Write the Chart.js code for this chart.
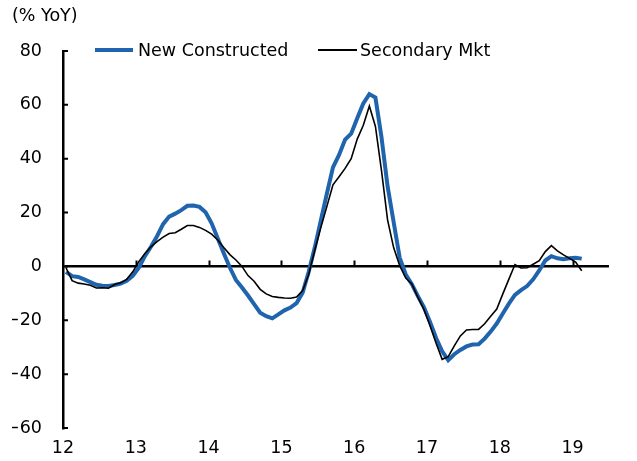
<!DOCTYPE html>
<html>
<head>
<meta charset="utf-8">
<script src="https://cdn.jsdelivr.net/npm/chart.js@4"></script>
<style>
  body { margin: 0; background: #fff; }
  #wrap { position: relative; width: 637px; height: 461px; }
  .key { position: absolute; top: 40px; display: flex; align-items: center;
         font: 17.5px "DejaVu Sans", sans-serif; color: #000; white-space: nowrap; }
  .key span.ln { display: inline-block; width: 38px; margin-right: 5px; }
</style>
</head>
<body>
<div id="wrap">
  <canvas id="chart" width="637" height="461"></canvas>
  <div class="key" style="left:95px"><span class="ln" style="height:4px;background:#1f64ad"></span>New Constructed</div>
  <div class="key" style="left:318px"><span class="ln" style="height:2px;background:#000;width:39px;margin-right:3px"></span>Secondary Mkt</div>
</div>
<script>
// monthly YoY %, Jan 2012 .. Feb 2019
const yearLabels = ['12', '13', '14', '15', '16', '17', '18', '19'];

const newConstructed = [
  -2.0, -3.6, -3.9, -4.8, -5.8, -6.8, -7.2, -7.3, -6.9, -6.4, -5.3, -3.5,
  -0.5, 3.8, 7.3, 11.2, 15.7, 18.5, 19.6, 20.9, 22.5, 22.6, 22.1, 20.1,
  16.0, 10.5, 4.9, -0.4, -5.0, -7.8, -10.8, -14.0, -17.2, -18.5, -19.3, -17.8,
  -16.3, -15.3, -13.6, -9.8, -2.0, 7.0, 17.1, 27.1, 36.8, 41.4, 47.1, 49.3,
  55.0, 60.5, 64.0, 62.7, 48.0, 29.8, 16.5, 3.2, -3.0, -6.6, -11.0, -15.2,
  -20.6, -26.6, -31.5, -34.8, -32.6, -31.0, -29.7, -29.0, -28.9, -26.8, -24.2, -21.2,
  -17.5, -13.8, -10.6, -8.8, -7.3, -4.8, -1.5, 2.2, 3.8, 3.0, 2.7, 3.0,
  3.2, 2.9
];

const secondaryMkt = [
  -0.5, -5.3, -6.2, -6.5, -7.0, -8.0, -7.9, -8.1, -6.7, -6.1, -4.8, -2.0,
  1.8, 4.8, 7.3, 9.2, 10.9, 12.2, 12.5, 13.8, 15.2, 15.2, 14.5, 13.4,
  12.0, 9.8, 7.0, 4.4, 2.4, 0.0, -3.4, -5.5, -8.5, -10.2, -11.2, -11.5,
  -11.7, -11.8, -11.4, -9.0, -3.0, 6.0, 14.4, 22.3, 30.3, 33.3, 36.4, 40.0,
  47.3, 52.4, 59.6, 52.0, 35.6, 17.3, 7.0, 0.3, -4.3, -6.5, -11.5, -16.0,
  -22.0, -28.5, -34.5, -33.5, -29.5, -25.8, -23.6, -23.4, -23.4, -21.3, -18.5, -15.8,
  -10.2, -4.7, 0.7, -0.6, -0.5, 0.8, 2.1, 5.5, 7.7, 5.8, 4.3, 3.0,
  1.6, -1.6
];

const FONT = { family: '"DejaVu Sans", sans-serif', size: 17.5 };

// months sit in the middle of their slot; a year is 12 slots
const toPoints = arr => arr.map((v, i) => ({ x: i + 0.5, y: v }));

// short tick marks: x ticks on the zero line, y ticks inside the axis
const axisMarks = {
  id: 'axisMarks',
  beforeDatasetsDraw(chart) {
    const { ctx, scales: { x, y } } = chart;
    const y0 = y.getPixelForValue(0);
    ctx.save();
    ctx.strokeStyle = '#000';
    ctx.lineWidth = 2;
    ctx.beginPath();
    x.ticks.forEach(t => {
      if (t.value === 0) return;
      const px = Math.round(x.getPixelForValue(t.value)) + 0.5;
      ctx.moveTo(px, y0);
      ctx.lineTo(px, y0 - 6);
    });
    y.ticks.forEach(t => {
      const py = y.getPixelForValue(t.value);
      ctx.moveTo(x.left, py);
      ctx.lineTo(x.left + 5, py);
    });
    ctx.stroke();
    ctx.restore();
  }
};

new Chart(document.getElementById('chart'), {
  type: 'line',
  data: {
    datasets: [
      {
        label: 'New Constructed',
        data: toPoints(newConstructed),
        borderColor: '#1f64ad',
        borderWidth: 4,
        pointRadius: 0,
        tension: 0,
        order: 1
      },
      {
        label: 'Secondary Mkt',
        data: toPoints(secondaryMkt),
        borderColor: '#000',
        borderWidth: 1.6,
        pointRadius: 0,
        tension: 0,
        order: 0
      }
    ]
  },
  options: {
    responsive: false,
    devicePixelRatio: 1,
    animation: false,
    layout: { padding: { left: 12, right: 28, top: 0, bottom: 0 } },
    plugins: {
      legend: { display: false },
      tooltip: { enabled: false },
      title: {
        display: true,
        text: '(% YoY)',
        align: 'start',
        color: '#000',
        font: { ...FONT, weight: 'normal' },
        padding: { top: 6, bottom: 24 }
      }
    },
    scales: {
      x: {
        type: 'linear',
        min: 0,
        max: 90,
        afterBuildTicks: s => { s.ticks = yearLabels.map((_, i) => ({ value: i * 12 })); },
        ticks: {
          color: '#000',
          font: FONT,
          padding: 2,
          maxRotation: 0,
          autoSkip: false,
          callback: v => yearLabels[v / 12]
        },
        grid: { display: false },
        border: { display: false }
      },
      y: {
        min: -60,
        max: 80,
        ticks: {
          stepSize: 20,
          color: '#000',
          font: FONT,
          padding: 21,
          callback: v => String(v).replace('-', '\u2212')
        },
        afterFit: s => { s.width = 51; },
        grid: {
          drawTicks: false,
          color: c => (c.tick && c.tick.value === 0 ? '#000' : 'rgba(0,0,0,0)'),
          lineWidth: 2.5
        },
        border: { display: true, color: '#000', width: 2.5 }
      }
    }
  },
  plugins: [axisMarks]
});
</script>
</body>
</html>
